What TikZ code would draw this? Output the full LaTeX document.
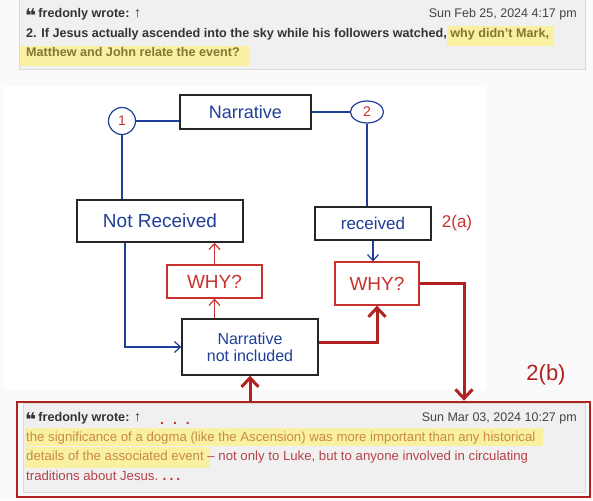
\documentclass[tikz,border=0pt]{standalone}
\usepackage{fontspec}
\setmainfont{Liberation Sans}
\newfontfamily\glyphfont{DejaVu Sans}
\usetikzlibrary{arrows.meta,positioning,shapes.geometric}
\definecolor{PageBG}     {HTML}{FAFAFA}
\definecolor{QuoteBG}    {HTML}{F0F0F0}
\definecolor{QuoteRule}  {HTML}{DADADA}
\definecolor{PostText}   {HTML}{333333}
\definecolor{DateText}   {HTML}{444444}
\definecolor{HiliteBG}   {HTML}{F9F0A2}
\definecolor{HiliteText} {HTML}{857632}
\definecolor{QuoteOrange}{HTML}{C98A45}
\definecolor{QuoteRed}   {HTML}{B5434A}
\definecolor{InkBlue}    {HTML}{1F3F98}
\definecolor{InkRed}     {HTML}{C8312E}
\definecolor{InkDark}    {HTML}{262626}
\definecolor{MarkerRed}  {HTML}{B0221F}
\newcommand{\quoteicon}{\raisebox{-5.5pt}{\glyphfont\fontsize{19}{15}\selectfont ❝}}

\begin{document}
\begin{tikzpicture}[x=1pt,y=-1pt,
  post/.style={anchor=base west,inner sep=0pt,font=\fontsize{13.2}{15}\selectfont,text=PostText},
  boldpost/.style={post,font=\fontsize{12.6}{15}\selectfont\bfseries},
  stamp/.style={anchor=base east,inner sep=0pt,font=\fontsize{12.5}{15}\selectfont,text=DateText},
  inkbox/.style={draw=InkDark,line width=1.4pt,text=InkBlue,inner sep=2pt,
                 font=\fontsize{17}{17}\selectfont},
  whybox/.style={draw=InkRed,line width=1.2pt,text=InkRed,inner sep=2pt,
                 font=\fontsize{19}{19}\selectfont},
  numbox/.style={draw=InkBlue,line width=1.2pt,text=InkRed,inner sep=1pt,
                 font=\fontsize{14}{14}\selectfont},
  bluewire/.style={draw=InkBlue,line width=1.2pt},
  bluearr/.style={bluewire,-{Straight Barb[length=6pt,width=11pt]}},
  redarr/.style={draw=InkRed,line width=1.2pt,-{Straight Barb[length=6pt,width=11pt]}},
  marker/.style={draw=MarkerRed,line width=3pt,
                 -{Straight Barb[length=9pt,width=17pt,line width=3pt]}},
  inklabel/.style={text=InkRed,inner sep=0pt}
]
  \useasboundingbox (0,0) rectangle (593,500);
  \fill[PageBG] (0,0) rectangle (593,500);

  % first quoted post
  \filldraw[QuoteRule,fill=QuoteBG] (19,-2) rectangle (585,69);
  \fill[HiliteBG] (447,26) rectangle (553,46);
  \fill[HiliteBG] (20,46) rectangle (249,66);
  \node[boldpost] (head1) at (25,17.5)
        {\quoteicon\,fredonly wrote: {\fontsize{14}{14}\selectfont\mdseries ↑}};
  \node[stamp] (date1) at (577,17.5) {Sun Feb 25, 2024 4:17 pm};
  \node[boldpost] (ask1) at (26,37.5)
        {2. If Jesus actually ascended into the sky while his followers watched,
         \textcolor{HiliteText}{why didn't Mark,}};
  \node[boldpost,text=HiliteText] (ask2) at (26,57)
        {Matthew and John relate the event?};

  % sketch
  \fill[white] (4,86) rectangle (486,390);

  \node[inkbox,minimum width=131pt,minimum height=34pt,font=\fontsize{18}{18}\selectfont]
        (narr) at (245.5,112) {Narrative};
  \node[numbox,circle,minimum size=27pt] (one) at (122,121) {1};
  \node[numbox,ellipse,minimum width=33pt,minimum height=22pt] (two) at (367,112) {2};

  \node[inkbox,minimum width=166pt,minimum height=42pt,font=\fontsize{19}{19}\selectfont]
        (notrec) at (160,221) {Not Received};
  \node[inkbox,minimum width=116pt,minimum height=33pt] (rec) at (373,223.5) {received};
  \node[inklabel,font=\fontsize{17}{17}\selectfont,right=10pt of rec] (twoa) {2(a)};

  \node[whybox,minimum width=95pt,minimum height=33pt] (whyL) at (214.5,281.5) {WHY?};
  \node[whybox,minimum width=84pt,minimum height=43pt] (whyR) at (377,283.5) {WHY?};

  \node[inkbox,minimum width=136pt,minimum height=56pt,align=center,
        font=\fontsize{16}{17}\selectfont] (nni) at (250,347) {Narrative\\not included};

  \draw[bluewire] (one.east) -- (one.east -| narr.west);
  \draw[bluewire] (narr.east) -- (two.west);
  \draw[bluewire] (one.south) -- (one.south |- notrec.north);
  \draw[bluewire] (two.south) -- (two.south |- rec.north);
  \draw[bluearr] (rec.south) -- (rec.south |- whyR.north);
  \draw[bluearr] ([xshift=-35pt]notrec.south) |- (nni.west);

  \draw[redarr] (whyL.north) -- (whyL.north |- notrec.south);
  \draw[redarr] (whyL.south |- nni.north) -- (whyL.south);

  % second quoted post
  \filldraw[QuoteRule,fill=QuoteBG] (23,403) rectangle (585,492);
  \node[draw=MarkerRed,line width=2.8pt,minimum width=573pt,minimum height=95pt,
        inner sep=0pt] (reply) at (303.5,449.5) {};
  \fill[HiliteBG] (25,428) rectangle (543,446);
  \fill[HiliteBG] (25,447) rectangle (210,468);
  \node[boldpost] (head2) at (25,421)
        {\quoteicon\,fredonly wrote: {\fontsize{14}{14}\selectfont\mdseries ↑}};
  \node[inklabel,font=\fontsize{14}{14}\selectfont\bfseries,anchor=base west]
        (dots1) at (160,424) {.\hspace{9pt}.\hspace{9pt}.};
  \node[stamp] (date2) at (577,421) {Sun Mar 03, 2024 10:27 pm};
  \node[post,text=QuoteOrange] (say1) at (26,441)
        {the significance of a dogma (like the Ascension) was more important than any historical};
  \node[post,text=QuoteRed] (say2) at (26,460)
        {\textcolor{QuoteOrange}{details of the associated event} – not only to Luke, but to anyone involved in circulating};
  \node[post,text=QuoteRed] (say3) at (26,480) {traditions about Jesus.};
  \node[inklabel,font=\fontsize{14}{14}\selectfont\bfseries,
        right=4pt of say3.base east,anchor=base west] (dots2) {.\hspace{3pt}.\hspace{3pt}.};

  \draw[marker] ([yshift=5pt]nni.east) -| (whyR.south);
  \draw[marker] (whyR.east) -| ([xshift=160.5pt]reply.north);
  \draw[marker] (reply.north -| nni.south) -- (nni.south);
  \node[inklabel,text=MarkerRed,font=\fontsize{22}{22}\selectfont] (twob) at (546,375) {2(b)};
\end{tikzpicture}
\end{document}
